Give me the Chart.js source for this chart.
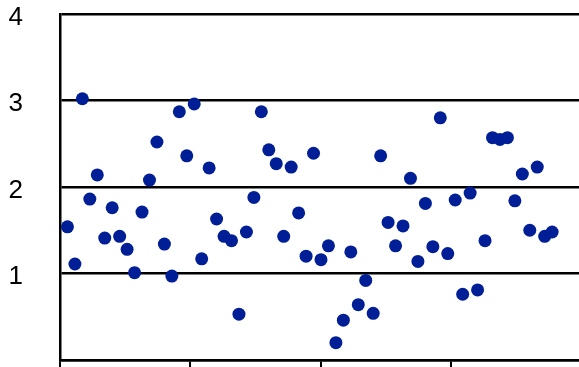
<!DOCTYPE html>
<html>
<head>
<meta charset="utf-8">
<script src="https://cdn.jsdelivr.net/npm/chart.js@4.4.1/dist/chart.umd.min.js"></script>
<style>
  html, body { margin: 0; padding: 0; background: #fff; overflow: hidden; }
  canvas { display: block; }
</style>
</head>
<body>
<canvas id="scatter" width="579" height="367"></canvas>
<script>
// 값
const yValues = [
  1.54, 1.11, 3.02, 1.86, 2.14, 1.41, 1.76, 1.43, 1.28, 1.01,
  1.71, 2.08, 2.52, 1.34, 0.97, 2.87, 2.36, 2.96, 1.17, 2.22,
  1.63, 1.43, 1.38, 0.53, 1.48, 1.88, 2.87, 2.43, 2.27, 1.43,
  2.23, 1.70, 1.20, 2.39, 1.16, 1.32, 0.20, 0.46, 1.25, 0.64,
  0.92, 0.54, 2.36, 1.59, 1.32, 1.55, 2.10, 1.14, 1.81, 1.31,
  2.80, 1.23, 1.85, 0.76, 1.93, 0.81, 1.38, 2.57, 2.55, 2.57,
  1.84, 2.15, 1.50, 2.23, 1.43, 1.48
];
const xValues = yValues.map((v, i) => i + 1); // 순번
const xTicks = [0, 17.5, 35, 52.5];
const yTicks = [0, 1, 2, 3, 4];

const points = xValues.map((x, i) => ({ x: x, y: yValues[i] }));

new Chart(document.getElementById('scatter').getContext('2d'), {
  type: 'scatter',
  data: {
    datasets: [{
      data: points,
      backgroundColor: '#001e96',
      borderColor: '#001e96',
      borderWidth: 0,
      pointRadius: 6.5,
      pointHoverRadius: 6.5,
      clip: false
    }]
  },
  options: {
    responsive: false,
    devicePixelRatio: 1,
    animation: false,
    layout: { autoPadding: false, padding: { top: 14, right: 0, left: 0, bottom: 0 } },
    plugins: {
      legend: { display: false },
      tooltip: { enabled: false }
    },
    scales: {
      x: {
        type: 'linear',
        min: 0,
        max: 69.6,
        afterBuildTicks: scale => { scale.ticks = xTicks.map(v => ({ value: v })); },
        afterFit: scale => {
          scale.height = 7;
          scale.paddingLeft = 0;
          scale.paddingRight = 0;
        },
        grid: {
          drawOnChartArea: false,
          drawTicks: true,
          tickLength: 7,
          color: '#000',
          lineWidth: 2
        },
        border: { display: true, color: '#000', width: 2.5 },
        ticks: { display: false }
      },
      y: {
        min: 0,
        max: 4,
        afterBuildTicks: scale => { scale.ticks = yTicks.map(v => ({ value: v })); },
        afterFit: scale => {
          // 라벨 padding 때문에 위아래 여백이 커지지 않게
          scale.width = 60;
          scale.paddingTop = 0;
          scale.paddingBottom = 0;
        },
        grid: {
          drawTicks: false,
          color: '#000',
          lineWidth: 2.5
        },
        border: { display: true, color: '#000', width: 2.5 },
        ticks: {
          padding: 37,
          color: '#000',
          font: { family: 'Liberation Sans', size: 26, lineHeight: 0.26 },
          // 빈 줄을 앞에 넣어 라벨을 살짝 아래로
          callback: v => (v === 0 ? '' : ['', String(v)])
        }
      }
    }
  }
});
</script>
</body>
</html>
